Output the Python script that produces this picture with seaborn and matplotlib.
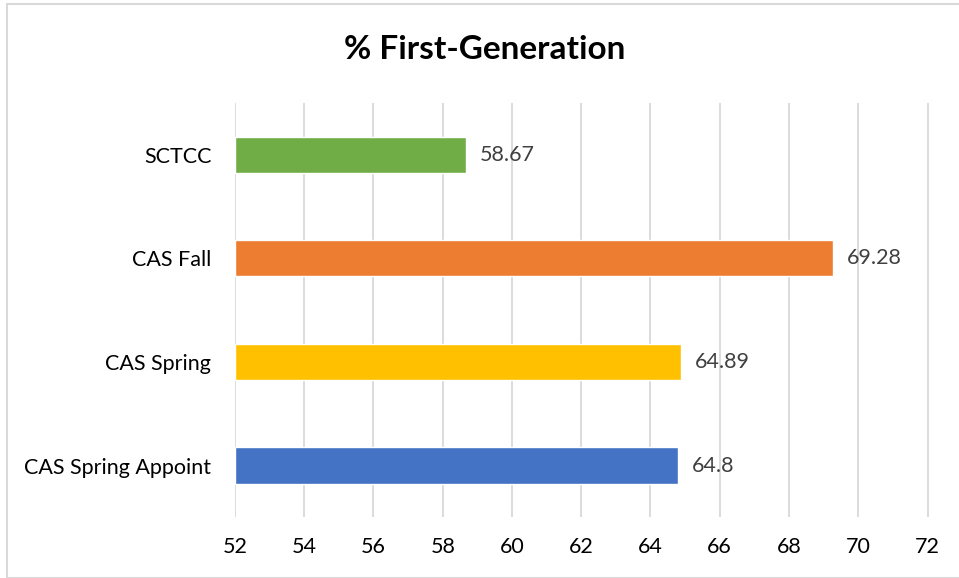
import matplotlib
matplotlib.use("Agg")
import matplotlib.pyplot as plt
import pandas as pd
import seaborn as sns
from matplotlib.patches import Rectangle

categories = ["SCTCC", "CAS Fall", "CAS Spring", "CAS Spring Appoint"]
values = [58.67, 69.28, 64.89, 64.8]
value_labels = ["58.67", "69.28", "64.89", "64.8"]
colors = ["#70AD47", "#ED7D31", "#FFC000", "#4472C4"]
x_ticks = [52, 54, 56, 58, 60, 62, 64, 66, 68, 70, 72]

sns.set_theme(style="white")
plt.rcParams["font.family"] = ["Lato", "DejaVu Sans"]

df = pd.DataFrame({"category": categories, "value": values})

fig = plt.figure(figsize=(9.59, 5.78), dpi=100)
ax = fig.add_axes([0.245, 0.105, 0.733, 0.717])

# draw bars from the baseline 52, like Excel's axis minimum
sns.barplot(data=df, y="category", x="value", hue="category", palette=colors,
            order=categories, hue_order=categories, legend=False,
            width=0.35, saturation=1, ax=ax)
for patch, v in zip(ax.patches, values):
    patch.set_x(52)
    patch.set_width(v - 52)

ax.set_xlim(52, 72.3)
ax.set_xticks(x_ticks)
ax.set_xlabel("")
ax.set_ylabel("")
ax.grid(axis="x", color="#D9D9D9", linewidth=1.3)
ax.set_axisbelow(True)
for s in ax.spines.values():
    s.set_visible(False)
ax.tick_params(axis="both", length=0, labelsize=15.5, colors="black")
ax.tick_params(axis="x", pad=14)
ax.tick_params(axis="y", pad=17)

for i, (v, lab) in enumerate(zip(values, value_labels)):
    ax.text(v + 0.4, i, lab, va="center", ha="left", fontsize=15.5, color="#404040")

fig.text(0.505, 0.915, "% First-Generation", ha="center", va="center",
         fontsize=24, fontweight="bold", color="black")

fig.patches.append(Rectangle((0.007, 0.0), 1.2, 0.993, transform=fig.transFigure,
                             fill=False, edgecolor="#D9D9D9", linewidth=1.5))

fig.savefig("out.png", dpi=100)
